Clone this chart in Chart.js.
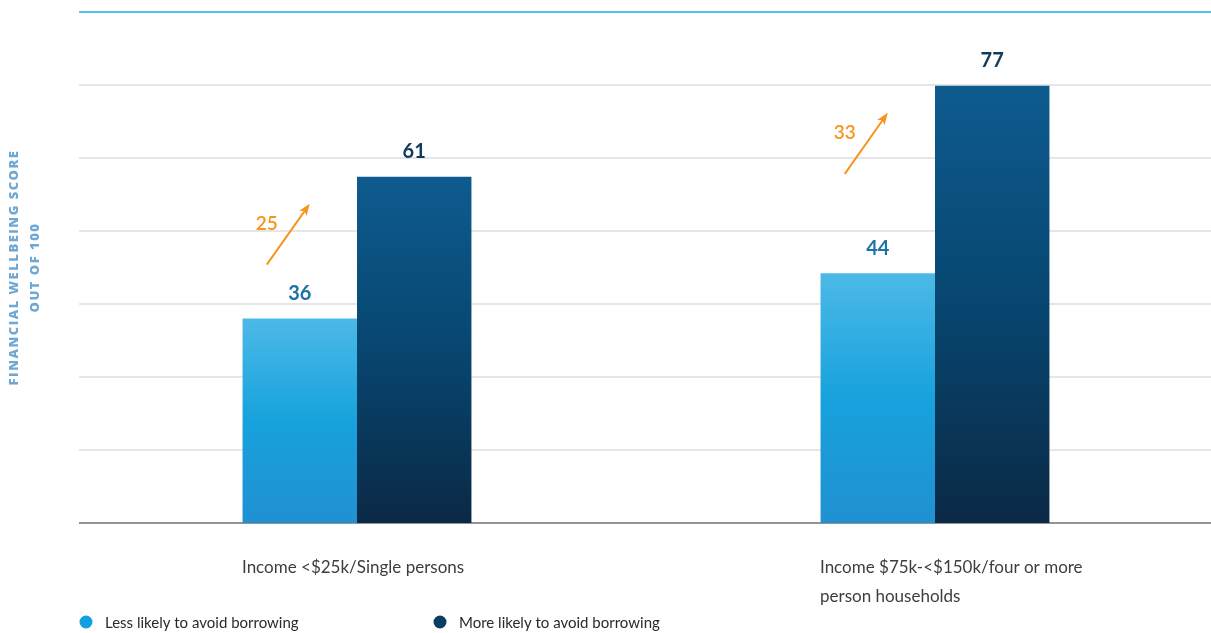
<!DOCTYPE html>
<html>
<head>
<meta charset="utf-8">
<title>Financial wellbeing score by borrowing behaviour</title>
<script src="https://cdn.jsdelivr.net/npm/chart.js@4/dist/chart.umd.min.js"></script>
<style>
  html, body { margin: 0; padding: 0; background: #fff; overflow: hidden; }
  #wrap { position: absolute; left: 0; top: 0; width: 1230px; height: 633px; }
</style>
</head>
<body>
<div id="wrap"><canvas id="wellbeingChart" width="1230" height="633"></canvas></div>
<script>
// Data
const categories = [
  ['Income <$25k/Single persons'],
  ['Income $75k-<$150k/four or more', 'person households']
];
const seriesNames = ['Less likely to avoid borrowing', 'More likely to avoid borrowing'];
const lessLikely = [36, 44];
const moreLikely = [61, 77];
const yMax = 90;
const gridSteps = 7;
const yTitle = ['FINANCIAL WELLBEING SCORE', 'OUT OF 100'];

// Colours
const lightTop = '#4cb9e7', lightMid = '#17a2dd', lightBottom = '#2190d1';
const darkTop = '#0e5b8f', darkMid = '#074670', darkBottom = '#0b2945';
const legendColors = ['#12a0e3', '#0a3e63'];
const labelColors = ['#1c72a6', '#0f3b5c'];
const arrowColor = '#f7941d';

// vertical gradient running from each bar's top down to the baseline
function barGradient(ctx, c0, c1, c2) {
  const chart = ctx.chart;
  const area = chart.chartArea;
  if (!area) return c1;
  const y = chart.scales.y;
  const top = y.getPixelForValue(ctx.raw);
  const g = chart.ctx.createLinearGradient(0, top, 0, area.bottom);
  g.addColorStop(0, c0);
  g.addColorStop(0.5, c1);
  g.addColorStop(1, c2);
  return g;
}

// Grid lines start a little right of the plot's left edge
const gridPlugin = {
  id: 'gridLines',
  beforeDatasetsDraw(chart) {
    const ctx = chart.ctx;
    const y = chart.scales.y;
    ctx.save();
    y.ticks.forEach((t, i) => {
      const py = Math.round(y.getPixelForValue(t.value));
      ctx.beginPath();
      if (i === y.ticks.length - 1) {
        ctx.strokeStyle = '#52c4ec';
        ctx.lineWidth = 2;
      } else if (i === 0) {
        ctx.strokeStyle = '#707070';
        ctx.lineWidth = 1.5;
      } else {
        ctx.strokeStyle = '#dedede';
        ctx.lineWidth = 1.3;
      }
      ctx.moveTo(79, py);
      ctx.lineTo(1211, py);
      ctx.stroke();
    });
    ctx.restore();
  }
};

// Value labels, difference arrows, axis title and legend
const annotatePlugin = {
  id: 'annotate',
  afterDatasetsDraw(chart) {
    const ctx = chart.ctx;
    const metaA = chart.getDatasetMeta(0);
    const metaB = chart.getDatasetMeta(1);
    ctx.save();
    ctx.textAlign = 'center';
    ctx.textBaseline = 'middle';
    ctx.font = 'bold 20px Lato';
    [metaA, metaB].forEach((meta, d) => {
      ctx.fillStyle = labelColors[d];
      meta.data.forEach((bar, i) => {
        const v = chart.data.datasets[d].data[i];
        ctx.fillText(String(v), bar.x, bar.y - 25);
      });
    });

    // arrows showing the gap between the two groups
    metaA.data.forEach((barA, i) => {
      const barB = metaB.data[i];
      const diff = moreLikely[i] - lessLikely[i];
      const sx = barA.x - 33;
      const sy = barB.y + 88;
      const ex = sx + 43, ey = sy - 61;
      const ang = Math.atan2(ey - sy, ex - sx);
      ctx.strokeStyle = arrowColor;
      ctx.fillStyle = arrowColor;
      ctx.lineWidth = 2;
      ctx.beginPath();
      ctx.moveTo(sx, sy);
      ctx.lineTo(ex - 6 * Math.cos(ang), ey - 6 * Math.sin(ang));
      ctx.stroke();
      const len = 12, half = 4.5;
      const bx = ex - len * Math.cos(ang), by = ey - len * Math.sin(ang);
      ctx.beginPath();
      ctx.moveTo(ex, ey);
      ctx.lineTo(bx + half * Math.sin(ang), by - half * Math.cos(ang));
      ctx.lineTo(bx + 3 * Math.cos(ang), by + 3 * Math.sin(ang));
      ctx.lineTo(bx - half * Math.sin(ang), by + half * Math.cos(ang));
      ctx.closePath();
      ctx.fill();
      ctx.font = '600 19px Lato';
      ctx.fillText(String(diff), sx, sy - 41);
    });
    ctx.restore();
  },
  afterDraw(chart) {
    const ctx = chart.ctx;
    const area = chart.chartArea;
    ctx.save();
    // rotated y axis title
    ctx.translate(14, (area.top + area.bottom) / 2);
    ctx.rotate(-Math.PI / 2);
    ctx.fillStyle = '#6fa8d2';
    ctx.font = '800 13px "Open Sans"';
    ctx.letterSpacing = '1.5px';
    ctx.textAlign = 'center';
    ctx.textBaseline = 'middle';
    ctx.fillText(yTitle[0], 0, 0);
    ctx.fillText(yTitle[1], 0, 21);
    ctx.restore();

    // legend
    ctx.save();
    ctx.font = '15px Lato';
    ctx.textBaseline = 'middle';
    const legendX = [86, 440];
    seriesNames.forEach((name, i) => {
      ctx.beginPath();
      ctx.fillStyle = legendColors[i];
      ctx.arc(legendX[i], 622, 6.5, 0, Math.PI * 2);
      ctx.fill();
      ctx.fillStyle = '#2a2a2a';
      ctx.fillText(name, legendX[i] + 19, 623);
    });
    ctx.restore();
  }
};

new Chart(document.getElementById('wellbeingChart'), {
  type: 'bar',
  data: {
    labels: categories,
    datasets: [
      {
        label: seriesNames[0],
        data: lessLikely,
        backgroundColor: ctx => barGradient(ctx, lightTop, lightMid, lightBottom),
        barPercentage: 1,
        categoryPercentage: 0.396
      },
      {
        label: seriesNames[1],
        data: moreLikely,
        backgroundColor: ctx => barGradient(ctx, darkTop, darkMid, darkBottom),
        barPercentage: 1,
        categoryPercentage: 0.396
      }
    ]
  },
  options: {
    responsive: false,
    animation: false,
    layout: { padding: { left: 68, right: 6, top: 12, bottom: 0 } },
    plugins: {
      legend: { display: false },
      tooltip: { enabled: false }
    },
    scales: {
      x: {
        grid: { display: false },
        border: { display: false },
        ticks: {
          align: 'start',
          labelOffset: -115,
          padding: 22,
          color: '#3d3d3d',
          font: { family: 'Lato', size: 17, lineHeight: 1.7 }
        },
        afterFit(scale) { scale.height = 110; }
      },
      y: {
        min: 0,
        max: yMax,
        grid: { display: false },
        border: { display: false },
        ticks: { display: false },
        afterBuildTicks(scale) {
          scale.ticks = Array.from({ length: gridSteps + 1 }, (_, k) => ({ value: k * yMax / gridSteps }));
        },
        afterFit(scale) { scale.width = 0; }
      }
    }
  },
  plugins: [gridPlugin, annotatePlugin]
});
</script>
</body>
</html>
